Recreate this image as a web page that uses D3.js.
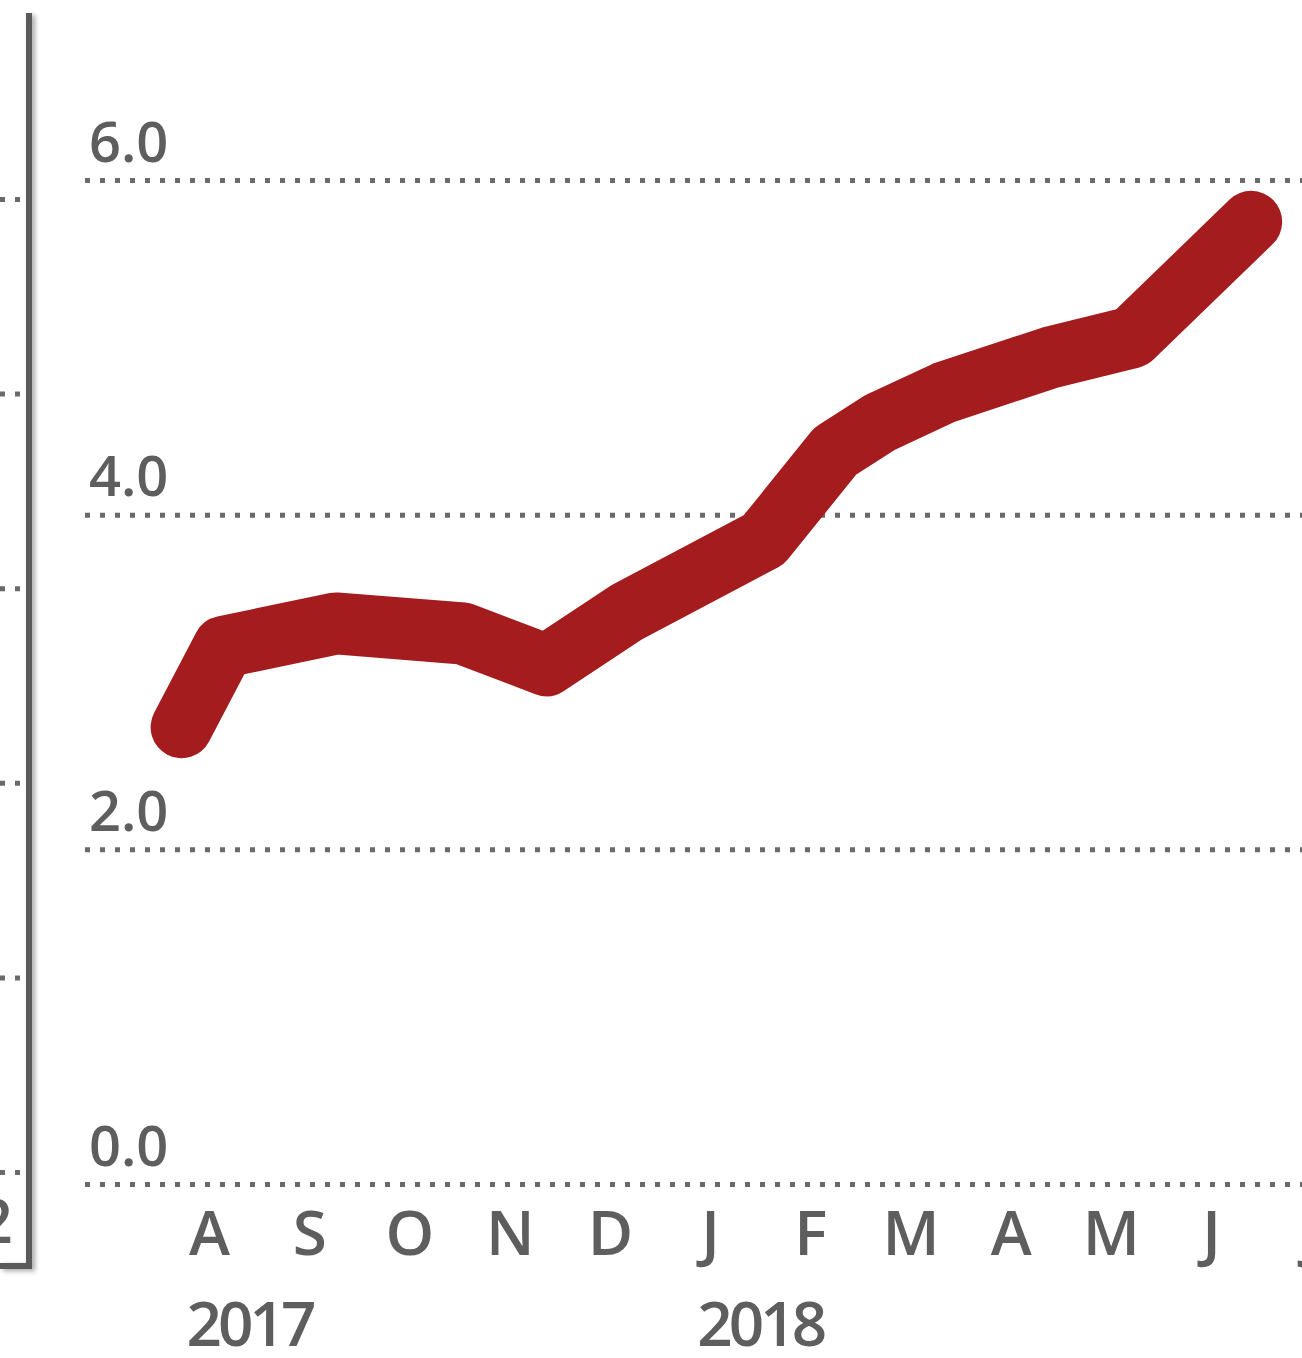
<!DOCTYPE html>
<html>
<head>
<meta charset="utf-8">
<script src="https://cdn.jsdelivr.net/npm/d3@7"></script>
<style>
  html, body { margin: 0; padding: 0; background: #fff; }
  svg { display: block; }
  text { font-family: "Open Sans", "Noto Sans", sans-serif; fill: #5e5e5e; font-weight: 600; }
</style>
</head>
<body>
<svg id="chart" width="1302" height="1358"></svg>
<script>
// ---- data ----
const months = ["A", "S", "O", "N", "D", "J", "F", "M", "A", "M", "J", "J"];
const firstMonth = "2017-08";
const yTicks = [0, 2, 4, 6];
const yTickLabels = ["0.0", "2.0", "4.0", "6.0"];
const years = ["2017", "2018"];
const yearAnchors = ["2017-08-29", "2018-02-01"];
const dates = ["2017-08-08", "2017-08-21", "2017-09-24", "2017-11-02", "2017-11-27", "2017-12-22",
               "2018-02-02", "2018-02-22", "2018-03-07", "2018-03-27", "2018-04-28", "2018-05-23", "2018-06-28"];
const values = [2.73, 3.21, 3.35, 3.29, 3.10, 3.42, 3.85, 4.38, 4.55, 4.73, 4.94, 5.06, 5.75];
// neighbouring (cropped) panel on the left
const leftTicks = [0, 1, 2, 3, 4, 5];
const leftLabel = "2";

// ---- helpers ----
const [fy, fm] = firstMonth.split("-").map(Number);
function monthPos(s) {
  const [Y, M, D] = s.split("-").map(Number);
  const idx = (Y - fy) * 12 + (M - fm);
  const dim = new Date(Y, M, 0).getDate();
  return idx + (D - 1) / dim;
}

const W = 1302, H = 1358;
const svg = d3.select("#chart");

const defs = svg.append("defs");
const fB = defs.append("filter").attr("id", "shadowB").attr("x", "-5%").attr("y", "-200%").attr("width", "110%").attr("height", "500%");
fB.append("feDropShadow").attr("dx", 0).attr("dy", 3).attr("stdDeviation", 2.5).attr("flood-color", "#000").attr("flood-opacity", 0.35);
const fR = defs.append("filter").attr("id", "shadowR").attr("x", "-300%").attr("y", "-2%").attr("width", "700%").attr("height", "104%");
fR.append("feDropShadow").attr("dx", 3).attr("dy", 2).attr("stdDeviation", 2.5).attr("flood-color", "#000").attr("flood-opacity", 0.35);

// ---- scales ----
const x = d3.scaleLinear().domain([0, 12]).range([159, 159 + 12 * 100.2]);
const y = d3.scaleLinear().domain([0, 6]).range([1184, 180]);
const yLeft = d3.scaleLinear().domain([0, 5]).range([1172, 199]);

// ---- left (cropped) panel ----
const leftAxis = d3.axisLeft(yLeft).tickValues(leftTicks).tickSize(20).tickFormat("");
const gl = svg.append("g").attr("transform", "translate(20,0)").call(leftAxis);
gl.select(".domain").remove();
gl.selectAll(".tick line").attr("stroke", "#6a6a6a").attr("stroke-width", 5).attr("stroke-dasharray", "5,10");

svg.append("path")
  .attr("d", d3.line()([[0, 1266], [29, 1266], [29, 13]]))
  .attr("fill", "none").attr("stroke", "#5a5a5a").attr("stroke-width", 6)
  .attr("filter", "url(#shadowR)");

svg.append("text").attr("x", 13).attr("y", 1243).attr("text-anchor", "end")
  .attr("font-size", 62).text(leftLabel);

// ---- gridlines + y labels ----
const yAxis = d3.axisLeft(y).tickValues(yTicks).tickSize(-(W - 85))
  .tickFormat((d, i) => yTickLabels[i]);
const gy = svg.append("g").attr("transform", "translate(85,0)").call(yAxis);
gy.select(".domain").remove();
gy.selectAll(".tick line").attr("stroke", "#6a6a6a").attr("stroke-width", 5).attr("stroke-dasharray", "5,10");
gy.selectAll(".tick text")
  .attr("x", 4).attr("dy", -19).attr("text-anchor", "start")
  .attr("font-size", 56).attr("fill", "#5e5e5e")
  .style("font-family", '"Open Sans", sans-serif').style("font-weight", 600);

// ---- x axis line ----
svg.append("line").attr("x1", 80).attr("x2", W).attr("y1", 1268).attr("y2", 1268)
  .attr("stroke", "#505050").attr("stroke-width", 6).attr("filter", "url(#shadowB)");

// ---- month labels ----
const xAxis = d3.axisBottom(x).tickValues(months.map((m, i) => i + 0.5))
  .tickSize(0).tickFormat((d, i) => months[i]);
const gx = svg.append("g").attr("transform", "translate(0,1255)").call(xAxis);
gx.select(".domain").remove();
gx.selectAll(".tick text").attr("y", 0).attr("dy", 0)
  .attr("font-size", 62).attr("fill", "#5e5e5e")
  .style("font-family", '"Open Sans", sans-serif').style("font-weight", 600);

// ---- year labels ----
svg.append("g").selectAll("text").data(years).join("text")
  .attr("x", (d, i) => x(monthPos(yearAnchors[i])))
  .attr("y", 1346).attr("text-anchor", "middle")
  .attr("font-size", 62).attr("letter-spacing", -4)
  .text(d => d);

// ---- line ----
const pts = dates.map((d, i) => [x(monthPos(d)), y(values[i])]);
svg.append("path")
  .attr("d", d3.line()(pts))
  .attr("fill", "none").attr("stroke", "#a51c1f").attr("stroke-width", 62)
  .attr("stroke-linejoin", "round").attr("stroke-linecap", "round");
</script>
</body>
</html>
